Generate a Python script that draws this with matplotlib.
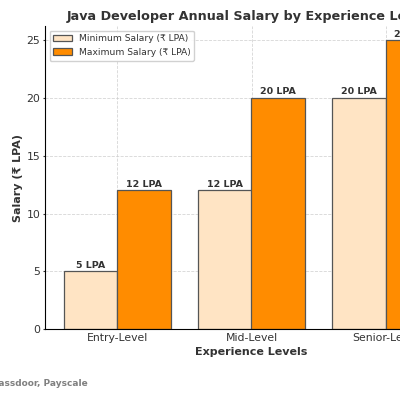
import matplotlib
matplotlib.use("Agg")
import matplotlib.pyplot as plt
import numpy as np

levels = ["Entry-Level", "Mid-Level", "Senior-Level"]
min_salary = [5, 12, 20]
max_salary = [12, 20, 25]

ink = "#333333"
plt.rcParams["text.color"] = ink
plt.rcParams["axes.labelcolor"] = ink
plt.rcParams["xtick.color"] = ink
plt.rcParams["ytick.color"] = ink

fig = plt.figure(figsize=(4, 4), dpi=100)
# the original is a crop of a wider chart, so the axes run past the right edge
ax = fig.add_axes([0.1125, 0.1775, 1.0325, 0.7575])

x = np.arange(len(levels))
w = 0.4
b1 = ax.bar(x - w / 2, min_salary, w, color="#FFE4C4", edgecolor="#555555",
            linewidth=0.9, label="Minimum Salary (₹ LPA)")
b2 = ax.bar(x + w / 2, max_salary, w, color="#FF8C00", edgecolor="#555555",
            linewidth=0.9, label="Maximum Salary (₹ LPA)")

for bars in (b1, b2):
    for r in bars:
        h = r.get_height()
        ax.text(r.get_x() + r.get_width() / 2, h + 0.15, f"{h:g} LPA",
                ha="center", va="bottom", fontsize=6.8, fontweight="bold")

ax.set_xticks(x)
ax.set_xticklabels(levels, fontsize=7.8)
ax.tick_params(axis="x", length=0, pad=3)
ax.tick_params(axis="y", labelsize=7.8, length=1.8, pad=1.5)
ax.set_xlim(-0.54, 2.54)
ax.set_ylim(0, 26.25)
ax.set_xlabel("Experience Levels", fontsize=8, fontweight="bold", labelpad=3)
ax.set_ylabel("Salary (₹ LPA)", fontsize=8, fontweight="bold", labelpad=2.5)
ax.set_title("Java Developer Annual Salary by Experience Levels",
             fontsize=9.2, fontweight="bold", pad=4)
ax.grid(True, linestyle="--", linewidth=0.6, color="#cccccc", alpha=0.8)
ax.set_axisbelow(True)
ax.spines["top"].set_visible(False)
ax.spines["right"].set_visible(False)
ax.legend(loc="upper left", fontsize=6.6, framealpha=0.9)

fig.text(0.22, 0.0425, "Source: Glassdoor, Payscale", ha="right", va="center",
         fontsize=6.5, fontweight="bold", color="gray")

fig.savefig("out.png", dpi=100)
